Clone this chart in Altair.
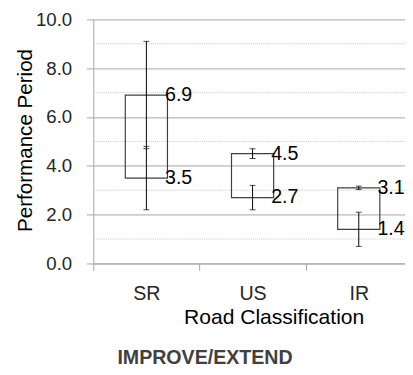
import altair as alt
import pandas as pd

# ---- data ----
categories = ["SR", "US", "IR"]
upper_vals = [6.9, 4.5, 3.1]
lower_vals = [3.5, 2.7, 1.4]
upper_err = [2.2, 0.2, 0.07]
lower_err = [1.3, 0.5, 0.7]
y_ticks = [0, 2, 4, 6, 8, 10]
minor_ticks = [1, 3, 5, 7, 9]

FONT = "Liberation Sans Narrow, Arial Narrow, Liberation Sans, sans-serif"
GRID = "#a6a6a6"

boxes = pd.DataFrame({"cat": categories, "lo": lower_vals, "hi": upper_vals})

err_rows = []
for c, v, e in zip(categories, upper_vals, upper_err):
    err_rows.append({"cat": c, "lo": v - e, "hi": v + e})
for c, v, e in zip(categories, lower_vals, lower_err):
    err_rows.append({"cat": c, "lo": v - e, "hi": v + e})
errs = pd.DataFrame(err_rows)
caps = pd.concat([
    errs[["cat", "lo"]].rename(columns={"lo": "v"}),
    errs[["cat", "hi"]].rename(columns={"hi": "v"}),
])
labels = pd.DataFrame({"cat": categories * 2, "val": upper_vals + lower_vals})
minor = pd.DataFrame({"v": minor_ticks})

xscale = alt.Scale(domain=categories, range=[0, 325], paddingInner=0, paddingOuter=0)
yscale = alt.Scale(domain=[0, 10], nice=False)

x_axis = alt.Axis(
    title="Road Classification", labelAngle=0, grid=False, tickBand="extent",
    tickSize=7, tickColor=GRID, domainColor=GRID,
    labelFont=FONT, labelFontSize=20, labelColor="#262626",
    labelBaseline="alphabetic", labelPadding=30,
    titleFont=FONT, titleFontSize=21.5, titleColor="#000000", titleFontWeight="normal",
    titleX=184, titleY=61, titleAlign="center", titleBaseline="alphabetic",
)
y_axis = alt.Axis(
    title="Performance Period", values=y_ticks, format=".1f",
    grid=True, gridColor=GRID, tickSize=7, tickColor=GRID, domainColor=GRID,
    labelFont=FONT, labelFontSize=19, labelColor="#262626", labelPadding=15,
    titleFont=FONT, titleFontSize=21, titleColor="#000000", titleFontWeight="normal",
    titleX=-63, titleY=123, titleAlign="center", titleBaseline="alphabetic",
)

minor_grid = alt.Chart(minor).mark_rule(color="#c8c8c8", strokeDash=[1, 1], strokeWidth=1).encode(
    y=alt.Y("v:Q", scale=yscale, axis=y_axis)
)

box = alt.Chart(boxes).mark_bar(fillOpacity=0, stroke="#404040", strokeWidth=1.2, size=43).encode(
    x=alt.X("cat:N", sort=categories, scale=xscale, axis=x_axis),
    y=alt.Y("lo:Q", scale=yscale, axis=y_axis),
    y2="hi:Q",
)

err = alt.Chart(errs).mark_rule(color="#000000", strokeWidth=1).encode(
    x=alt.X("cat:N", sort=categories, scale=xscale),
    y=alt.Y("lo:Q", scale=yscale),
    y2="hi:Q",
)

cap = alt.Chart(caps).mark_tick(color="#000000", size=6, thickness=1).encode(
    x=alt.X("cat:N", sort=categories, scale=xscale),
    y=alt.Y("v:Q", scale=yscale),
)

text = alt.Chart(labels).mark_text(
    align="left", baseline="middle", dx=19, fontSize=20, font=FONT, color="#000000"
).encode(
    x=alt.X("cat:N", sort=categories, scale=xscale),
    y=alt.Y("val:Q", scale=yscale),
    text=alt.Text("val:Q", format=".1f"),
)

chart = alt.layer(minor_grid, box, err, cap, text).properties(
    width=318,
    height=249,
    autosize=alt.AutoSizeParams(type="none"),
    padding={"left": 87, "top": 8, "right": 0, "bottom": 102},
    title=alt.TitleParams(
        "IMPROVE/EXTEND", orient="bottom", anchor="middle", frame="group",
        dx=-45, offset=21, font=FONT, fontWeight="bold", fontSize=20, color="#404040",
    ),
).configure_view(stroke=None)

chart.save("out.html", embed_options={"renderer": "svg", "actions": False})
